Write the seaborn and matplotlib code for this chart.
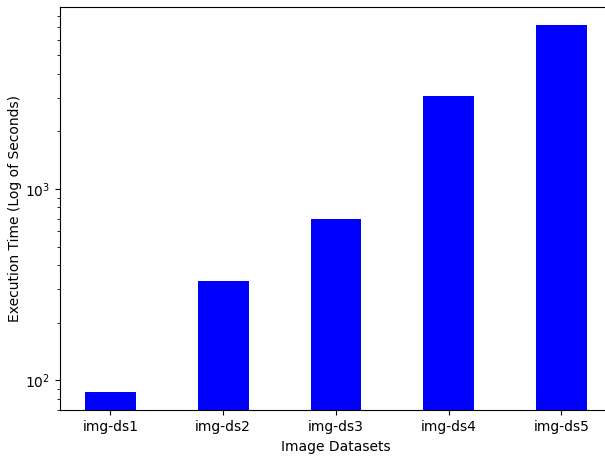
import matplotlib
matplotlib.use("Agg")
import matplotlib.pyplot as plt
import numpy as np
import pandas as pd
import seaborn as sns

# Execution time per image dataset (seconds)
datasets = ["img-ds1", "img-ds2", "img-ds3", "img-ds4", "img-ds5"]
exec_seconds = [87, 331, 697, 3045, 7170]

df = pd.DataFrame({"dataset": datasets, "seconds": exec_seconds})

fig = plt.figure(figsize=(6.05, 4.57), dpi=100)
ax = fig.add_axes([0.0992, 0.1022, 0.912, 0.883])
ax.set_yscale("log")

sns.barplot(data=df, x="dataset", y="seconds", color="#0000ff",
            saturation=1, width=0.45, ax=ax)

# 5% margin in log space around the data range
lo, hi = np.log10(min(exec_seconds)), np.log10(max(exec_seconds))
pad = 0.05 * (hi - lo)
ax.set_ylim(10 ** (lo - pad), 10 ** (hi + pad))
ax.set_xlim(-0.4475, 4.4475)

ax.set_xlabel("Image Datasets")
ax.set_ylabel("Execution Time (Log of Seconds)", labelpad=2)

fig.savefig("out.png", dpi=100)
